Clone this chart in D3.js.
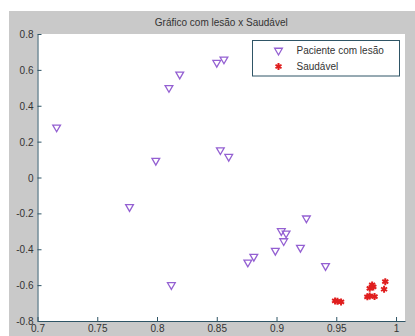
<!DOCTYPE html>
<html>
<head>
<meta charset="utf-8">
<script src="https://cdn.jsdelivr.net/npm/d3@7"></script>
<style>
body { margin: 0; background: #fff; }
text { font-family: "Liberation Sans", Arial, sans-serif; fill: #333; }
.axis path, .axis line { stroke: #2f5566; }
.axis text { font-size: 10px; fill: #333; }
</style>
</head>
<body>
<div id="chart-area"></div>
<script>
// data
var lesaoX = [0.716, 0.810, 0.819, 0.799, 0.850, 0.856, 0.853, 0.860, 0.777, 0.812,
	0.925, 0.904, 0.908, 0.906, 0.899, 0.920, 0.881, 0.876, 0.941];
var lesaoY = [0.28, 0.50, 0.575, 0.094, 0.64, 0.659, 0.153, 0.116, -0.164, -0.599,
	-0.227, -0.298, -0.311, -0.354, -0.408, -0.391, -0.441, -0.473, -0.493];

var saudavelX = [0.949, 0.951, 0.954, 0.976, 0.978, 0.980, 0.981, 0.978, 0.982, 0.990, 0.991];
var saudavelY = [-0.688, -0.690, -0.694, -0.665, -0.618, -0.599, -0.610, -0.660, -0.664, -0.623, -0.581];

var xTicks = [0.7, 0.75, 0.8, 0.85, 0.9, 0.95, 1];
var yTicks = [-0.8, -0.6, -0.4, -0.2, 0, 0.2, 0.4, 0.6, 0.8];

var title = "Gráfico com lesão x Saudável";
var seriesNames = ["Paciente com lesão", "Saudável"];

// drawing area
var W = 415, H = 336;
var plot = {left: 37.5, right: 405, top: 34, bottom: 321};

var xScale = d3.scaleLinear()
	.domain([0.7, 1.0075])
	.range([plot.left, plot.right]);

var yScale = d3.scaleLinear()
	.domain([-0.8, 0.8])
	.range([plot.bottom, plot.top]);

var svg = d3.select("#chart-area").append("svg")
	.attr("width", W)
	.attr("height", H);

// figure background
svg.append("rect")
	.attr("x", 9).attr("y", 11)
	.attr("width", W - 9).attr("height", H - 11)
	.attr("fill", "#c9c9c9");

svg.append("rect")
	.attr("x", plot.left).attr("y", plot.top)
	.attr("width", plot.right - plot.left)
	.attr("height", plot.bottom - plot.top)
	.attr("fill", "#fff");

svg.append("text")
	.attr("x", (plot.left + plot.right) / 2)
	.attr("y", 26)
	.attr("text-anchor", "middle")
	.style("font-size", "10px")
	.text(title);

// axes
var xAxis = d3.axisBottom(xScale)
	.tickValues(xTicks)
	.tickFormat(d => String(d))
	.tickSizeInner(-4)
	.tickSizeOuter(0)
	.tickPadding(4);

var yAxis = d3.axisLeft(yScale)
	.tickValues(yTicks)
	.tickFormat(d => String(d))
	.tickSizeInner(-4)
	.tickSizeOuter(0)
	.tickPadding(4);

svg.append("g")
	.attr("class", "axis x-axis")
	.attr("transform", `translate(0, ${plot.bottom})`)
	.call(xAxis);

svg.append("g")
	.attr("class", "axis y-axis")
	.attr("transform", `translate(${plot.left}, 0)`)
	.call(yAxis);

svg.selectAll(".y-axis .tick text").attr("dy", "0.35em");

// markers
var triColor = "#9460d2";
var starColor = "#e01e1e";
var tri = d3.symbol().type(d3.symbolTriangle).size(26);
var star = d3.symbol().type(d3.symbolAsterisk).size(34);

var lesao = lesaoX.map((x, i) => ({x: x, y: lesaoY[i]}));
var saudavel = saudavelX.map((x, i) => ({x: x, y: saudavelY[i]}));

svg.append("g").selectAll("path")
	.data(lesao)
	.enter()
	.append("path")
	.attr("d", tri)
	.attr("transform", d => `translate(${xScale(d.x)},${yScale(d.y)}) rotate(180)`)
	.attr("fill", "none")
	.attr("stroke", triColor)
	.attr("stroke-width", 1.3);

svg.append("g").selectAll("path")
	.data(saudavel)
	.enter()
	.append("path")
	.attr("d", star)
	.attr("transform", d => `translate(${xScale(d.x)},${yScale(d.y)})`)
	.attr("fill", "none")
	.attr("stroke", starColor)
	.attr("stroke-width", 2);

// legend
var legend = svg.append("g").attr("transform", "translate(252.5, 40.5)");

legend.append("rect")
	.attr("width", 147)
	.attr("height", 35.5)
	.attr("fill", "#fff")
	.attr("stroke", "#2f5566");

legend.append("path")
	.attr("d", tri)
	.attr("transform", "translate(26, 10) rotate(180)")
	.attr("fill", "none")
	.attr("stroke", triColor)
	.attr("stroke-width", 1.3);

legend.append("path")
	.attr("d", star)
	.attr("transform", "translate(26, 26)")
	.attr("fill", "none")
	.attr("stroke", starColor)
	.attr("stroke-width", 2);

legend.selectAll("text.item")
	.data(seriesNames)
	.enter()
	.append("text")
	.attr("class", "item")
	.attr("x", 44)
	.attr("y", (d, i) => 13.5 + i * 16)
	.style("font-size", "10px")
	.text(d => d);
</script>
</body>
</html>
